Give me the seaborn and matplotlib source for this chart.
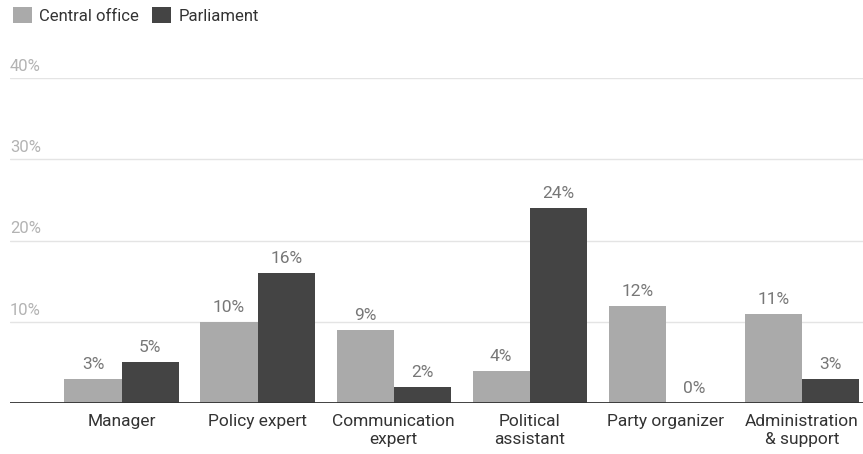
import matplotlib
matplotlib.use("Agg")
import matplotlib.pyplot as plt
import matplotlib.transforms as mtransforms
from matplotlib.patches import Patch
import seaborn as sns
import pandas as pd

categories = ["Manager", "Policy expert", "Communication\nexpert", "Political\nassistant",
              "Party organizer", "Administration\n& support"]
central_office = [3, 10, 9, 4, 12, 11]
parliament = [5, 16, 2, 24, 0, 3]
series_names = ["Central office", "Parliament"]
y_ticks = [10, 20, 30, 40]

colors = {"Central office": "#aaaaaa", "Parliament": "#444444"}

df = pd.DataFrame({
    "role": categories * 2,
    "share": central_office + parliament,
    "series": [series_names[0]] * len(categories) + [series_names[1]] * len(categories),
})

sns.set_style("white")
plt.rcParams["font.family"] = ["Roboto", "DejaVu Sans"]

fig = plt.figure(figsize=(8.63, 4.54), dpi=100)
ax = fig.add_axes([10 / 863, 51 / 454, 853 / 863, 325 / 454])

sns.barplot(data=df, x="role", y="share", hue="series", order=categories,
            hue_order=series_names, palette=colors, width=0.84, gap=0,
            saturation=1, linewidth=0, legend=False, ax=ax)

ax.set_xlim(-0.82, 5.45)
ax.set_ylim(0, 40)
ax.set_xlabel("")
ax.set_ylabel("")
ax.set_yticks([])
for s in ax.spines.values():
    s.set_visible(False)

# light horizontal gridlines with their labels sitting above them
trans = mtransforms.blended_transform_factory(ax.transAxes, ax.transData)
for t in y_ticks:
    ax.axhline(t, color="#e4e4e4", lw=1, zorder=0)
    ax.annotate(f"{t}%", xy=(0, t), xycoords=trans, xytext=(0, 3),
                textcoords="offset points", ha="left", va="bottom",
                fontsize=12, color="#b3b3b3", annotation_clip=False)
ax.axhline(0, color="#333333", lw=1.3, zorder=3)

ax.tick_params(axis="x", length=0, pad=8, labelsize=12.5, labelcolor="#333333")
for lbl in ax.get_xticklabels():
    lbl.set_linespacing(1.25)

for cont, vals in zip(ax.containers, [central_office, parliament]):
    ax.bar_label(cont, labels=[f"{v}%" for v in vals], padding=5,
                 fontsize=12.5, color="#777777")

handles = [Patch(facecolor=colors[n], edgecolor="none") for n in series_names]
fig.legend(handles, series_names, loc="upper left", bbox_to_anchor=(0.002, 1.01),
           ncol=2, frameon=False, handlelength=1.1, handleheight=1.1,
           handletextpad=0.45, columnspacing=0.8, fontsize=12,
           labelcolor="#333333", borderaxespad=0.3)

fig.savefig("out.png", dpi=100)
